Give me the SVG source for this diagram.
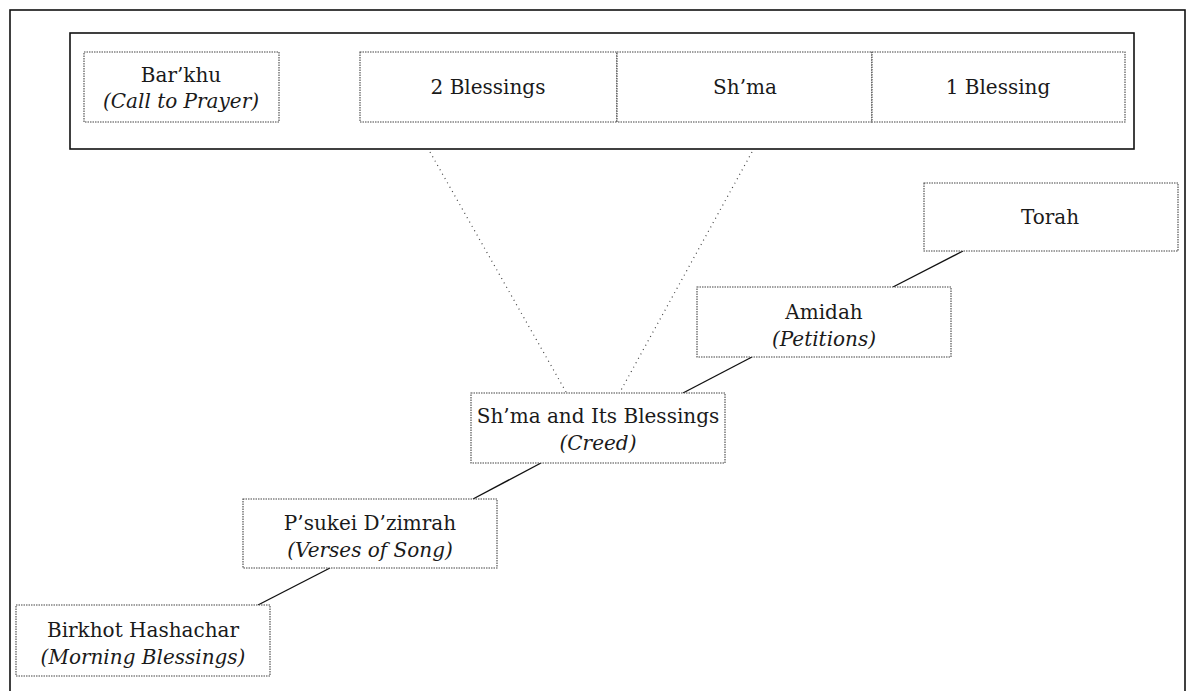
<svg xmlns="http://www.w3.org/2000/svg" width="1188" height="691" viewBox="0 0 1188 691">
  <style>
    .frame { fill: none; stroke: #111; stroke-width: 1.6; }
    .box { fill: #fff; stroke: #444; stroke-width: 1.1; stroke-dasharray: 1.5 1; }
    .link { fill: none; stroke: #111; stroke-width: 1.4; }
    .dots { fill: none; stroke: #444; stroke-width: 1.2; stroke-dasharray: 1 4; }
    .lbl { font-family: "DejaVu Serif", "Liberation Serif", serif; font-size: 20px; fill: #1a1a1a; text-anchor: middle; }
    .sub { font-style: italic; }
  </style>
  <rect width="1188" height="691" fill="#fff"/>

  <!-- outer frame (runs off the bottom edge) -->
  <rect class="frame" x="10" y="10" width="1175" height="700"/>

  <!-- connectors -->
  <g id="connectors">
    <line class="dots" x1="430" y1="152" x2="566" y2="392"/>
    <line class="dots" x1="752" y1="152" x2="620" y2="392"/>
    <line class="link" x1="963" y1="251" x2="893" y2="287"/>
    <line class="link" x1="752" y1="357" x2="683" y2="393"/>
    <line class="link" x1="541" y1="463" x2="473" y2="499"/>
    <line class="link" x1="330" y1="568" x2="258" y2="605"/>
  </g>

  <!-- Sh'ma detail panel -->
  <g id="shma-detail">
    <rect class="frame" x="70" y="33" width="1064" height="116"/>
    <g id="barkhu">
      <rect class="box" x="84" y="52" width="195" height="70"/>
      <text class="lbl" x="181" y="82">Bar’khu</text>
      <text class="lbl sub" x="181" y="108">(Call to Prayer)</text>
    </g>
    <g id="two-blessings">
      <rect class="box" x="360" y="52" width="257" height="70"/>
      <text class="lbl" x="488" y="94">2 Blessings</text>
    </g>
    <g id="shma">
      <rect class="box" x="617" y="52" width="255" height="70"/>
      <text class="lbl" x="745" y="94">Sh’ma</text>
    </g>
    <g id="one-blessing">
      <rect class="box" x="872" y="52" width="253" height="70"/>
      <text class="lbl" x="998" y="94">1 Blessing</text>
    </g>
  </g>

  <g id="torah">
    <rect class="box" x="924" y="183" width="254" height="68"/>
    <text class="lbl" x="1050" y="224">Torah</text>
  </g>

  <g id="amidah">
    <rect class="box" x="697" y="287" width="254" height="70"/>
    <text class="lbl" x="824" y="319">Amidah</text>
    <text class="lbl sub" x="824" y="346">(Petitions)</text>
  </g>

  <g id="shma-blessings">
    <rect class="box" x="471" y="393" width="254" height="70"/>
    <text class="lbl" x="598" y="423">Sh’ma and Its Blessings</text>
    <text class="lbl sub" x="598" y="450">(Creed)</text>
  </g>

  <g id="psukei">
    <rect class="box" x="243" y="499" width="254" height="69"/>
    <text class="lbl" x="370" y="530">P’sukei D’zimrah</text>
    <text class="lbl sub" x="370" y="557">(Verses of Song)</text>
  </g>

  <g id="birkhot">
    <rect class="box" x="16" y="605" width="254" height="71"/>
    <text class="lbl" x="143" y="637">Birkhot Hashachar</text>
    <text class="lbl sub" x="143" y="664">(Morning Blessings)</text>
  </g>
</svg>
